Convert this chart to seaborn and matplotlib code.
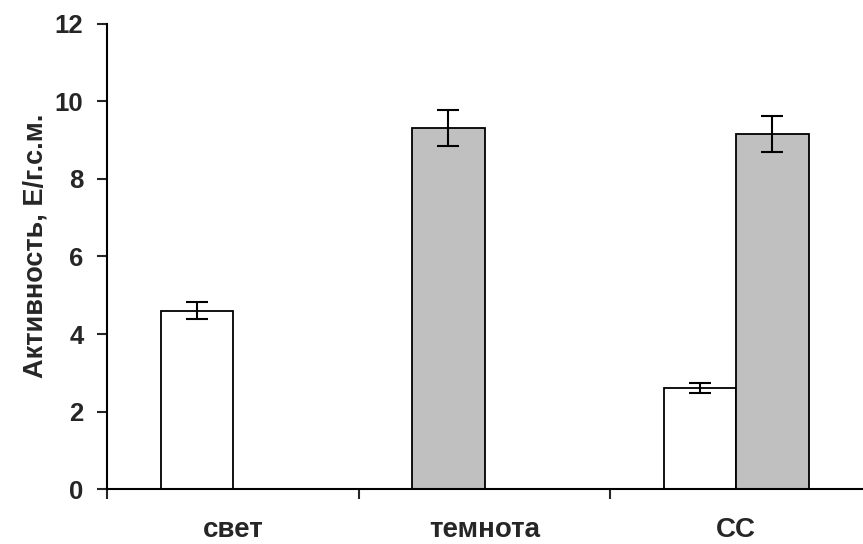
import numpy as np
import pandas as pd
import matplotlib
matplotlib.use('Agg')
import matplotlib.pyplot as plt
from matplotlib.ticker import FixedLocator, NullFormatter
import seaborn as sns

# данные
categories = ['свет', 'темнота', 'СС']
series_names = ['1', '2']
# первая серия (левый столбик в группе)
series1 = [4.6, 9.3, 2.6]
series1_err = [0.22, 0.46, 0.13]
series1_cond = ['light', 'dark', 'light']
# вторая серия (правый столбик) - есть только у СС
series2 = [np.nan, np.nan, 9.15]
series2_err = [np.nan, np.nan, 0.46]
series2_cond = ['', '', 'dark']
y_ticks = [0, 2, 4, 6, 8, 10, 12]

cond_colors = {'light': 'white', 'dark': '#C0C0C0'}

rows = []
for name, vals, errs, conds in [('1', series1, series1_err, series1_cond),
                                ('2', series2, series2_err, series2_cond)]:
    for cat, v, e, c in zip(categories, vals, errs, conds):
        if not np.isnan(v):
            rows.append([cat, name, v, e, c])
df = pd.DataFrame(rows, columns=['cat', 'slot', 'value', 'err', 'cond'])

sns.set_style('ticks')
plt.rcParams['font.family'] = ['Liberation Sans', 'DejaVu Sans']
plt.rcParams['font.weight'] = 'bold'

fig = plt.figure(figsize=(8.63, 5.44), dpi=100)
ax = fig.add_axes([0.124, 0.1006, 0.875, 0.8561])

sns.barplot(data=df, x='cat', y='value', hue='slot', order=categories,
            hue_order=series_names, width=0.574, errorbar=None,
            palette=['white', 'white'], edgecolor='black', linewidth=1.3,
            legend=False, ax=ax)

# цвет и планки погрешностей по положению столбиков
for p in ax.patches:
    cx = p.get_x() + p.get_width() / 2
    idx = int(round(cx))
    slot = '1' if cx < idx else '2'
    row = df[(df['cat'] == categories[idx]) & (df['slot'] == slot)]
    if row.empty:
        continue
    row = row.iloc[0]
    p.set_facecolor(cond_colors[row['cond']])
    ax.errorbar(cx, row['value'], yerr=row['err'], fmt='none', ecolor='black',
                elinewidth=1.5, capsize=8, capthick=1.5, zorder=5)

ax.set_ylim(0, 12)
ax.set_xlim(-0.5, 2.5)
ax.set_yticks(y_ticks)
ax.set_yticklabels([str(t) for t in y_ticks], fontsize=18.5, fontweight='bold')
ax.tick_params(axis='y', direction='out', length=7, width=1.5, pad=10)

# деления на границах категорий, подписи по центру
ax.xaxis.set_major_locator(FixedLocator([-0.5, 0.5, 1.5]))
ax.xaxis.set_major_formatter(NullFormatter())
ax.xaxis.set_minor_locator(FixedLocator([0, 1, 2]))
ax.set_xticklabels(categories, minor=True, fontsize=20, fontweight='bold')
ax.tick_params(axis='x', which='major', direction='out', length=7, width=1.5)
ax.tick_params(axis='x', which='minor', length=0, pad=20)

ax.set_xlabel('')
ax.set_ylabel('Активность, Е/г.с.м.', fontsize=19.5, fontweight='bold')
ax.yaxis.set_label_coords(-0.078, 0.522)

for s in ['top', 'right']:
    ax.spines[s].set_visible(False)
for s in ['left', 'bottom']:
    ax.spines[s].set_linewidth(1.5)
    ax.spines[s].set_color('black')

fig.savefig('out.png', dpi=100)
